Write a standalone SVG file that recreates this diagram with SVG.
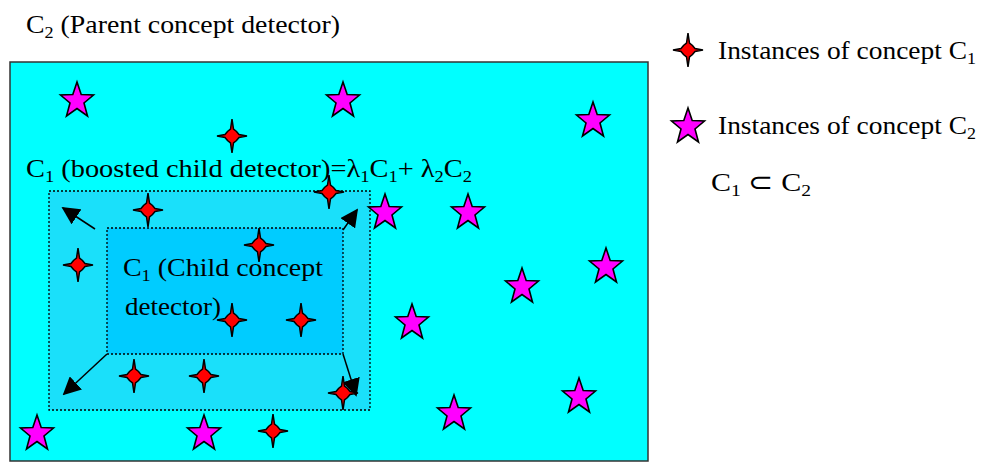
<svg xmlns="http://www.w3.org/2000/svg" width="986" height="464" viewBox="0 0 986 464">
<style>
.t{font-family:"Liberation Serif","Times New Roman",serif;font-size:26px;fill:#000}
.s{font-size:17px}
.cr{fill:#ff0000;stroke:#000;stroke-width:1.5;stroke-linejoin:miter}
.st{fill:#ff00ff;stroke:#000;stroke-width:1.6}
.dot{stroke:#000;stroke-width:1.3;stroke-dasharray:2 2}
.ar{stroke:#000;stroke-width:1.5;fill:none}
</style>
<defs>
<path id="cross" d="M0,-17 L1.5,-7 L4.5,-4.5 L7,-1.5 L15,0 L7,1.5 L4.5,4.5 L1.5,7 L0,17 L-1.5,7 L-4.5,4.5 L-7,1.5 L-15,0 L-7,-1.5 L-4.5,-4.5 L-1.5,-7Z"/>
<path id="star" d="M0,-19 L4.2,-6.5 L16.5,-6 L7,2 L10.5,15 L0,7.5 L-10.5,15 L-7,2 L-16.5,-6 L-4.2,-6.5Z"/>
<marker id="ah" viewBox="0 0 10 10" refX="9" refY="5" markerWidth="18" markerHeight="18" markerUnits="userSpaceOnUse" orient="auto">
<path d="M0,0 L10,5 L0,10Z" fill="#000"/>
</marker>
</defs>
<rect width="986" height="464" fill="#fff"/>
<g id="parent">
<rect x="10" y="62" width="638" height="399" fill="#00ffff" stroke="#333" stroke-width="1.5"/>
<text class="t" x="26" y="33" textLength="314" lengthAdjust="spacingAndGlyphs">C<tspan class="s" dy="5">2</tspan><tspan dy="-5"> (Parent concept detector)</tspan></text>
</g>
<g id="boosted">
<rect x="49" y="191" width="321" height="219" fill="#1ae0fa" class="dot"/>
<text class="t" x="26" y="177" textLength="446" lengthAdjust="spacingAndGlyphs">C<tspan class="s" dy="5">1</tspan><tspan dy="-5"> (boosted child detector)=λ</tspan><tspan class="s" dy="5">1</tspan><tspan dy="-5">C</tspan><tspan class="s" dy="5">1</tspan><tspan dy="-5">+ λ</tspan><tspan class="s" dy="5">2</tspan><tspan dy="-5">C</tspan><tspan class="s" dy="5">2</tspan></text>
</g>
<g id="child">
<rect x="107" y="228" width="236" height="126" fill="#00ccff" class="dot"/>
<text class="t" x="123" y="276" textLength="200" lengthAdjust="spacingAndGlyphs">C<tspan class="s" dy="5">1</tspan><tspan dy="-5"> (Child concept</tspan></text>
<text class="t" x="125" y="315" textLength="96" lengthAdjust="spacingAndGlyphs">detector)</text>
</g>
<g id="connectors">
<line class="ar" x1="95" y1="229" x2="63" y2="208" marker-end="url(#ah)"/>
<line class="ar" x1="343" y1="230" x2="357" y2="210" marker-end="url(#ah)"/>
<line class="ar" x1="107" y1="354" x2="64" y2="394" marker-end="url(#ah)"/>
<line class="ar" x1="343" y1="354" x2="356" y2="395" marker-end="url(#ah)"/>
</g>
<g id="instances-c1">
<use href="#cross" class="cr" x="232" y="136"/>
<use href="#cross" class="cr" x="329" y="192"/>
<use href="#cross" class="cr" x="148" y="210"/>
<use href="#cross" class="cr" x="259" y="245"/>
<use href="#cross" class="cr" x="78" y="265"/>
<use href="#cross" class="cr" x="232" y="320"/>
<use href="#cross" class="cr" x="301" y="320"/>
<use href="#cross" class="cr" x="134" y="376"/>
<use href="#cross" class="cr" x="204" y="376"/>
<use href="#cross" class="cr" x="343" y="393"/>
<use href="#cross" class="cr" x="273" y="431"/>
</g>
<g id="instances-c2">
<use href="#star" class="st" x="77" y="101"/>
<use href="#star" class="st" x="343" y="101"/>
<use href="#star" class="st" x="593" y="121"/>
<use href="#star" class="st" x="385" y="213"/>
<use href="#star" class="st" x="468" y="213"/>
<use href="#star" class="st" x="606" y="267"/>
<use href="#star" class="st" x="522" y="287"/>
<use href="#star" class="st" x="412" y="323"/>
<use href="#star" class="st" x="579" y="397"/>
<use href="#star" class="st" x="454" y="414"/>
<use href="#star" class="st" x="37" y="434"/>
<use href="#star" class="st" x="204" y="434"/>
</g>
<g id="legend">
<use href="#cross" class="cr" x="688" y="50"/>
<text class="t" x="718" y="59" textLength="258" lengthAdjust="spacingAndGlyphs">Instances of concept C<tspan class="s" dy="5">1</tspan></text>
<use href="#star" class="st" x="688" y="127"/>
<text class="t" x="718" y="134" textLength="258" lengthAdjust="spacingAndGlyphs">Instances of concept C<tspan class="s" dy="5">2</tspan></text>
<text class="t" x="711" y="191" textLength="100" lengthAdjust="spacingAndGlyphs">C<tspan class="s" dy="5">1</tspan><tspan dy="-5"> ⊂ C</tspan><tspan class="s" dy="5">2</tspan></text>
</g>
</svg>
